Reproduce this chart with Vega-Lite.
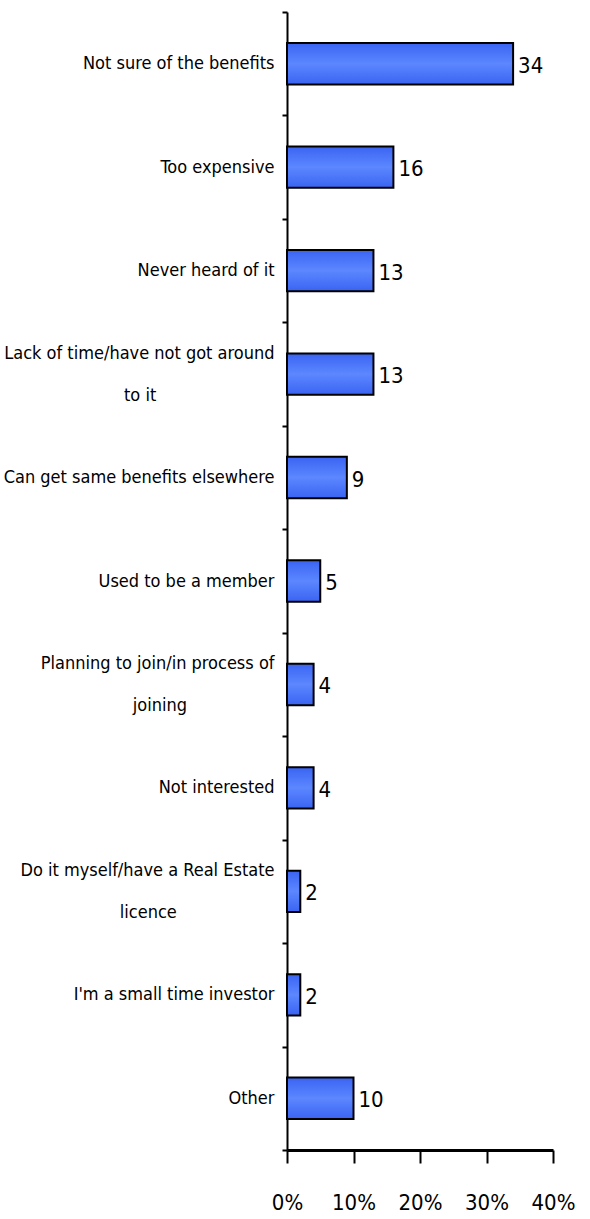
{
  "$schema": "https://vega.github.io/schema/vega-lite/v6.json",
  "width": 266,
  "height": 1138,
  "autosize": "none",
  "padding": {"left": 287, "top": 12, "right": 37, "bottom": 69},
  "background": "white",
  "config": {"view": {"stroke": null}, "font": "DejaVu Sans Condensed"},
  "data": {
    "values": [
      {"reason": "Not sure of the benefits", "pct": 34},
      {"reason": "Too expensive", "pct": 16},
      {"reason": "Never heard of it", "pct": 13},
      {"reason": "Lack of time/have not got around|to it", "pct": 13},
      {"reason": "Can get same benefits elsewhere", "pct": 9},
      {"reason": "Used to be a member", "pct": 5},
      {"reason": "Planning to join/in process of|joining", "pct": 4},
      {"reason": "Not interested", "pct": 4},
      {"reason": "Do it myself/have a Real Estate|licence", "pct": 2},
      {"reason": "I'm a small time investor", "pct": 2},
      {"reason": "Other", "pct": 10}
    ]
  },
  "encoding": {
    "y": {
      "field": "reason",
      "type": "nominal",
      "sort": null,
      "scale": {"paddingInner": 0, "paddingOuter": 0},
      "axis": {
        "title": null,
        "domainColor": "black",
        "domainWidth": 2,
        "tickColor": "black",
        "tickWidth": 2,
        "tickSize": 5,
        "tickBand": "extent",
        "labelFont": "DejaVu Sans Condensed",
        "labelFontSize": 18,
        "labelColor": "black",
        "labelLimit": 0,
        "labelLineHeight": 21,
        "labelOffset": -21,
        "labelPadding": 8,
        "labelExpr": "indexof(datum.label, '|') >= 0 ? [split(datum.label, '|')[0], '\u200b', pad(split(datum.label, '|')[1], length(split(datum.label, '|')[1]) + (indexof(datum.label, 'Lack') == 0 ? 23 : indexof(datum.label, 'Planning') == 0 ? 17 : 19), '\u00a0') + '\u200b'] : ['\u200b', datum.label]"
      }
    },
    "x": {
      "field": "pct",
      "type": "quantitative",
      "scale": {"domain": [0, 40], "nice": false},
      "axis": {
        "title": null,
        "grid": false,
        "values": [0, 10, 20, 30, 40],
        "labelExpr": "datum.value + '%'",
        "domainColor": "black",
        "domainWidth": 3,
        "tickColor": "black",
        "tickWidth": 2,
        "tickSize": 13,
        "labelFont": "DejaVu Sans Condensed",
        "labelFontSize": 22,
        "labelColor": "black",
        "labelPadding": 29,
        "labelFlush": false
      }
    }
  },
  "layer": [
    {
      "mark": {
        "type": "bar",
        "height": {"band": 0.4},
        "stroke": "black",
        "strokeWidth": 2,
        "fill": {
          "gradient": "linear",
          "x1": 0, "y1": 0, "x2": 0, "y2": 1,
          "stops": [
            {"offset": 0, "color": "#3a64f2"},
            {"offset": 0.5, "color": "#5c87ff"},
            {"offset": 1, "color": "#3a64f2"}
          ]
        }
      }
    },
    {
      "mark": {
        "type": "text",
        "align": "left",
        "baseline": "middle",
        "dx": 5,
        "dy": 2,
        "font": "DejaVu Sans Condensed",
        "fontSize": 22,
        "color": "black"
      },
      "encoding": {"text": {"field": "pct", "type": "quantitative"}}
    }
  ]
}
